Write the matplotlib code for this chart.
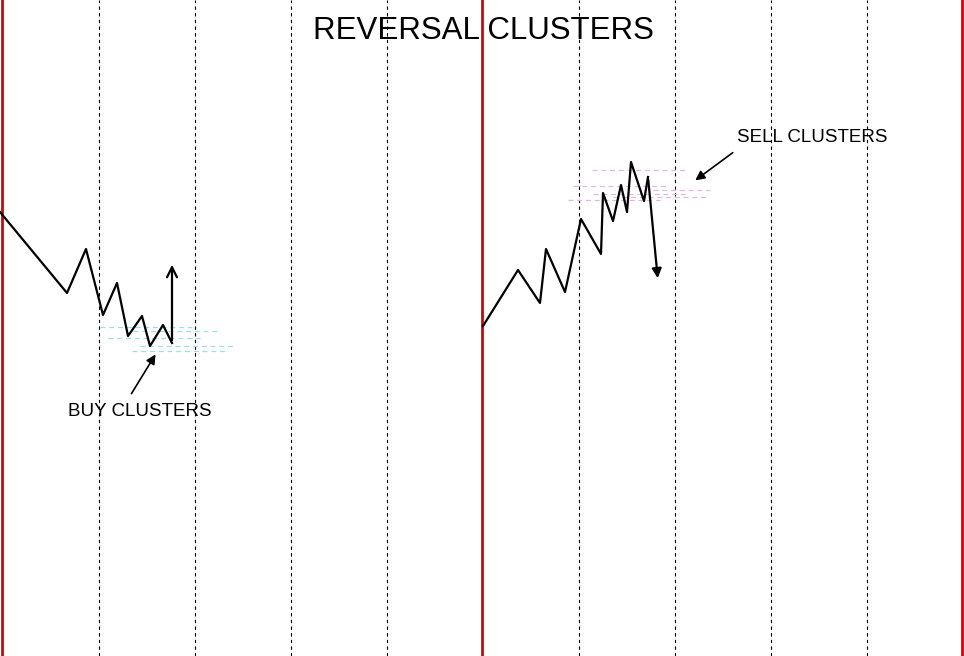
import matplotlib
matplotlib.use("Agg")
import matplotlib.pyplot as plt

# price swings (pixel-like chart coords, y grows downward)
buy_x = [0, 67, 86, 103, 117, 128, 142, 150, 163, 172]
buy_y = [212, 293, 249, 315, 283, 336, 316, 346, 325, 343]
sell_x = [483, 518, 540, 546, 565, 581, 601, 603, 613, 621, 627, 631, 644, 648]
sell_y = [326, 270, 303, 249, 292, 219, 254, 193, 221, 185, 212, 162, 201, 177]

buy_levels = [(327, 100, 192), (331, 133, 220), (338, 108, 200), (346, 140, 233), (351, 132, 225)]
sell_levels = [(170, 592, 685), (186, 573, 667), (190, 653, 710), (194, 593, 687), (197, 613, 707), (200, 568, 660)]

red_x = [2, 482, 962]
grid_x = [99, 195, 291, 387, 579, 675, 771, 867]

fig = plt.figure(figsize=(9.64, 6.56), dpi=100)
ax = fig.add_axes([0, 0, 1, 1])
ax.set_xlim(0, 964)
ax.set_ylim(656, 0)
ax.axis('off')

for x in grid_x:
    ax.axvline(x, color='black', ls=(0, (3, 3)), lw=0.8)
for x in red_x:
    ax.axvline(x, color='#dd0000', lw=2)

for y, x0, x1 in buy_levels:
    ax.plot([x0, x1], [y, y], color='#a0dde6', ls=(0, (4, 3)), lw=0.9)
for y, x0, x1 in sell_levels:
    ax.plot([x0, x1], [y, y], color='#e0b8e0', ls=(0, (4, 3)), lw=0.9)

ax.plot(buy_x, buy_y, color='black', lw=1.6)
ax.annotate('', xy=(172, 262), xytext=(buy_x[-1], buy_y[-1]),
            arrowprops=dict(arrowstyle='->', color='black', lw=1.6, mutation_scale=18))
ax.plot(sell_x, sell_y, color='black', lw=1.6)
ax.annotate('', xy=(658, 281), xytext=(sell_x[-1], sell_y[-1]),
            arrowprops=dict(arrowstyle='-|>', color='black', lw=1.6, mutation_scale=14))

ax.text(483, 31, 'REVERSAL CLUSTERS', fontsize=22.5, ha='center', va='center', family='Liberation Sans')
ax.text(140, 411, 'BUY CLUSTERS', fontsize=13.5, ha='center', va='center', family='Liberation Sans')
ax.annotate('', xy=(157, 352), xytext=(130, 396),
            arrowprops=dict(arrowstyle='-|>', color='black', lw=1.2, mutation_scale=14))
ax.text(812, 137, 'SELL CLUSTERS', fontsize=13.5, ha='center', va='center', family='Liberation Sans')
ax.annotate('', xy=(693, 182), xytext=(735, 151),
            arrowprops=dict(arrowstyle='-|>', color='black', lw=1.2, mutation_scale=14))

fig.savefig('out.png', dpi=100)
